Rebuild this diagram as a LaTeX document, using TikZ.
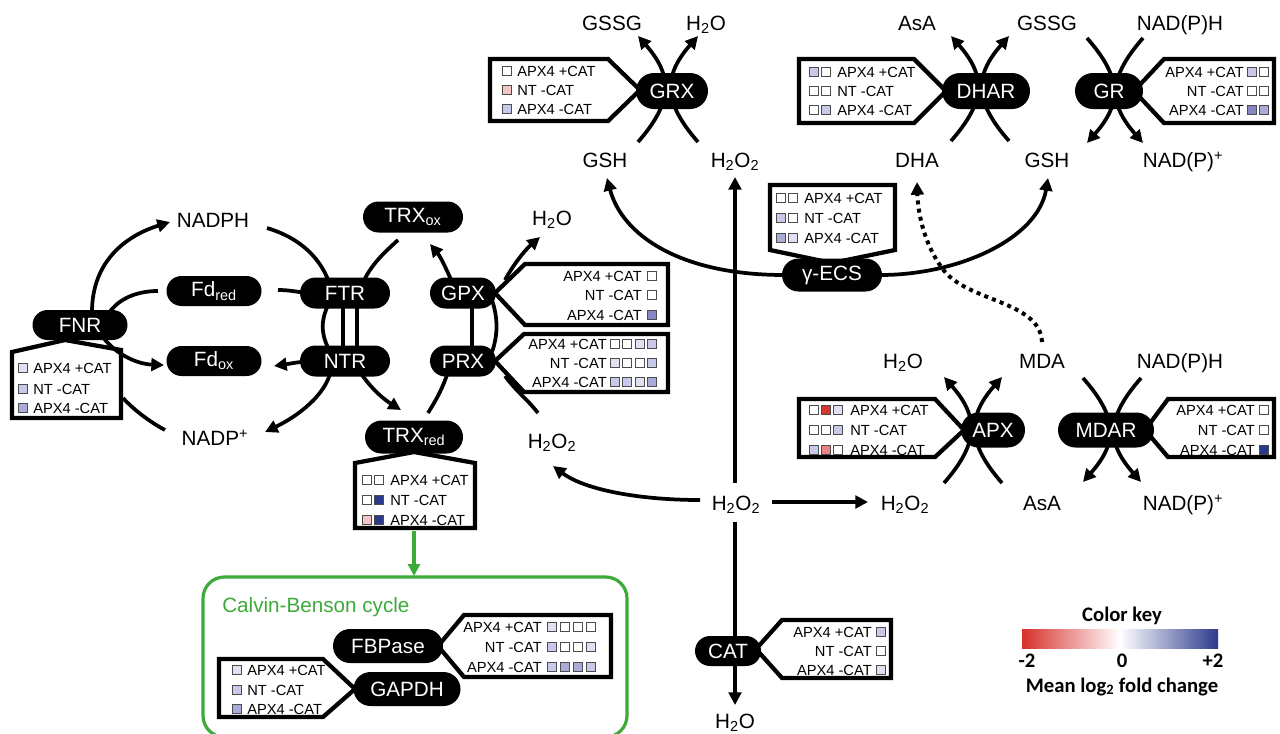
\documentclass[tikz,border=0pt]{standalone}
\usepackage{fontspec}
\setmainfont{Liberation Sans}
\newfontfamily\keyfont{Carlito}
\usetikzlibrary{arrows.meta,shapes.misc}
\definecolor{lvA}{HTML}{E0E0F2}
\definecolor{lvB}{HTML}{C8C8E8}
\definecolor{lvC}{HTML}{ABABDA}
\definecolor{lvD}{HTML}{8686C4}
\definecolor{dkb}{HTML}{2B3A8E}
\definecolor{pk}{HTML}{F3C6C6}
\definecolor{rd}{HTML}{D8382C}
\definecolor{pr}{HTML}{E88484}
\definecolor{grn}{HTML}{3DAA3A}
\definecolor{keyred}{HTML}{D6302A}
\definecolor{keyblue}{HTML}{2E3A8C}
\tikzset{
  lbl/.style={font=\fontsize{15.5}{15.5}\selectfont, inner sep=0pt, anchor=base},
  pill/.style 2 args={rounded rectangle, fill=black, text=white, minimum width=#1*0.75pt, minimum height=#2*0.75pt, inner sep=0pt, font=\fontsize{15.5}{15.5}\selectfont},
  ibox/.style={draw=black, fill=white, line width=3.2pt, line join=miter},
  rowL/.style={font=\fontsize{11}{11}\selectfont, inner sep=0pt, anchor=west},
  rowR/.style={font=\fontsize{11}{11}\selectfont, inner sep=0pt, anchor=east},
  conn/.style={line width=2.8pt},
  arr/.style={conn, -{Triangle[length=9.5pt,width=9.5pt]}},
  dotarr/.style={line width=3pt, dash pattern=on 3pt off 3.2pt, -{Triangle[length=9.5pt,width=9.5pt]}},
  sqs/.style={draw=black!70, line width=0.6pt},
  keylbl/.style={font=\keyfont\bfseries\fontsize{15.5}{15.5}\selectfont, inner sep=0pt, anchor=base},
}
\newcommand\sqr[3]{\filldraw[sqs,fill=#3] ({#1-4.5},{#2-4.5}) rectangle ({#1+4.5},{#2+4.5});}
\newcommand\arcsUp[4]{%
  \draw[arr] ({#1-#2},#4) .. controls +(35,-40) and +(35,40) .. ({#1-#2},#3);
  \draw[arr] ({#1+#2},#4) .. controls +(-35,-40) and +(-35,40) .. ({#1+#2},#3);}
\newcommand\arcsDown[4]{%
  \draw[arr] ({#1-#2},#3) .. controls +(35,40) and +(35,-40) .. ({#1-#2},#4);
  \draw[arr] ({#1+#2},#3) .. controls +(-35,40) and +(-35,-40) .. ({#1+#2},#4);}
\begin{document}
\begin{tikzpicture}[x=0.75pt,y=-0.75pt]
\useasboundingbox (0,0) rectangle (1280,733);
\fill[white] (0,0) rectangle (1280,733);

% ---------- Calvin-Benson box ----------
\draw[grn, line width=2.4pt, rounded corners=16pt] (203,577) rectangle (627,737);
\node[lbl, text=grn, anchor=base west] (cbc) at (222,612) {Calvin-Benson cycle};

% ---------- info boxes ----------
% GRX
\draw[ibox] (490,59) -- (608,59) -- (640,90) -- (608,121) -- (490,121) -- cycle;
\sqr{507}{71}{white}\sqr{507}{90}{pk}\sqr{507}{109}{lvB}
\node[rowL] (grx1) at (517,71) {APX4 +CAT};
\node[rowL] (grx2) at (517,90) {NT -CAT};
\node[rowL] (grx3) at (517,109) {APX4 -CAT};
% DHAR
\draw[ibox] (799,59) -- (914,59) -- (946,91) -- (914,123) -- (799,123) -- cycle;
\sqr{814}{72}{lvB}\sqr{826}{72}{white}
\sqr{814}{91}{white}\sqr{826}{91}{white}
\sqr{814}{110}{white}\sqr{826}{110}{lvB}
\node[rowL] (dh1) at (837,72) {APX4 +CAT};
\node[rowL] (dh2) at (837,91) {NT -CAT};
\node[rowL] (dh3) at (837,110) {APX4 -CAT};
% GR
\draw[ibox] (1274,59) -- (1164,59) -- (1134,91) -- (1164,123) -- (1274,123) -- cycle;
\sqr{1252}{72}{lvB}\sqr{1264}{72}{white}
\sqr{1252}{91}{white}\sqr{1264}{91}{white}
\sqr{1252}{110}{lvD}\sqr{1264}{110}{lvC}
\node[rowR] (gr1) at (1244,72) {APX4 +CAT};
\node[rowR] (gr2) at (1244,91) {NT -CAT};
\node[rowR] (gr3) at (1244,110) {APX4 -CAT};
% gamma-ECS
\draw[ibox] (770,185) -- (895,185) -- (895,250) -- (832,263) -- (770,250) -- cycle;
\sqr{781}{198}{white}\sqr{793}{198}{white}
\sqr{781}{218}{lvB}\sqr{793}{218}{white}
\sqr{781}{238}{lvC}\sqr{793}{238}{lvA}
\node[rowL] (ge1) at (804,198) {APX4 +CAT};
\node[rowL] (ge2) at (804,218) {NT -CAT};
\node[rowL] (ge3) at (804,238) {APX4 -CAT};
% FNR
\draw[ibox] (12,352) -- (65,340) -- (121,350) -- (121,418) -- (12,418) -- cycle;
\sqr{23}{368}{lvA}\sqr{23}{389}{lvB}\sqr{23}{408}{lvC}
\node[rowL] (fn1) at (33,368) {APX4 +CAT};
\node[rowL] (fn2) at (33,389) {NT -CAT};
\node[rowL] (fn3) at (33,408) {APX4 -CAT};
% GPX
\draw[ibox] (525,264) -- (668,264) -- (668,325) -- (525,325) -- (495,293) -- cycle;
\sqr{652}{276}{white}\sqr{652}{295}{white}\sqr{652}{315}{lvD}
\node[rowR] (gp1) at (642,276) {APX4 +CAT};
\node[rowR] (gp2) at (642,295) {NT -CAT};
\node[rowR] (gp3) at (642,315) {APX4 -CAT};
% PRX
\draw[ibox] (524,334) -- (668,334) -- (668,392) -- (524,392) -- (495,361) -- cycle;
\sqr{614.5}{344}{white}\sqr{627}{344}{white}\sqr{639.5}{344}{lvA}\sqr{652}{344}{lvB}
\sqr{614.5}{363}{lvA}\sqr{627}{363}{white}\sqr{639.5}{363}{white}\sqr{652}{363}{lvB}
\sqr{614.5}{382}{lvB}\sqr{627}{382}{lvB}\sqr{639.5}{382}{lvA}\sqr{652}{382}{lvC}
\node[rowR] (pr1) at (607,344) {APX4 +CAT};
\node[rowR] (pr2) at (607,363) {NT -CAT};
\node[rowR] (pr3) at (607,382) {APX4 -CAT};
% TRXred
\draw[ibox] (355,463) -- (414,452) -- (475,463) -- (475,528) -- (355,528) -- cycle;
\sqr{367}{480}{white}\sqr{379}{480}{white}
\sqr{367}{500}{white}\sqr{379}{500}{dkb}
\sqr{367}{520}{pk}\sqr{379}{520}{dkb}
\node[rowL] (tr1) at (390,480) {APX4 +CAT};
\node[rowL] (tr2) at (390,500) {NT -CAT};
\node[rowL] (tr3) at (390,520) {APX4 -CAT};
% FBPase
\draw[ibox] (464,615) -- (611,615) -- (611,677) -- (464,677) -- (438,646) -- cycle;
\sqr{552}{627}{lvA}\sqr{565}{627}{white}\sqr{578}{627}{white}\sqr{591}{627}{white}
\sqr{552}{647}{lvB}\sqr{565}{647}{white}\sqr{578}{647}{white}\sqr{591}{647}{lvA}
\sqr{552}{667}{lvB}\sqr{565}{667}{lvC}\sqr{578}{667}{lvC}\sqr{591}{667}{lvB}
\node[rowR] (fb1) at (542,627) {APX4 +CAT};
\node[rowR] (fb2) at (542,647) {NT -CAT};
\node[rowR] (fb3) at (542,667) {APX4 -CAT};
% GAPDH
\draw[ibox] (219,659) -- (323,659) -- (355,689) -- (323,717) -- (219,717) -- cycle;
\sqr{237}{670}{lvA}\sqr{237}{690}{lvB}\sqr{237}{709}{lvC}
\node[rowL] (ga1) at (247,670) {APX4 +CAT};
\node[rowL] (ga2) at (247,690) {NT -CAT};
\node[rowL] (ga3) at (247,709) {APX4 -CAT};
% APX
\draw[ibox] (799,399) -- (935,399) -- (964,430) -- (935,457) -- (799,457) -- cycle;
\sqr{814}{410}{white}\sqr{826}{410}{rd}\sqr{838}{410}{lvA}
\sqr{814}{430}{white}\sqr{826}{430}{white}\sqr{838}{430}{lvB}
\sqr{814}{450}{lvB}\sqr{826}{450}{pr}\sqr{838}{450}{white}
\node[rowL] (ap1) at (850,410) {APX4 +CAT};
\node[rowL] (ap2) at (850,430) {NT -CAT};
\node[rowL] (ap3) at (850,450) {APX4 -CAT};
% MDAR
\draw[ibox] (1274,399) -- (1168,399) -- (1145,430) -- (1168,457) -- (1274,457) -- cycle;
\sqr{1264}{410}{white}\sqr{1264}{430}{white}\sqr{1264}{450}{dkb}
\node[rowR] (md1) at (1255,410) {APX4 +CAT};
\node[rowR] (md2) at (1255,430) {NT -CAT};
\node[rowR] (md3) at (1255,450) {APX4 -CAT};
% CAT
\draw[ibox] (782,620) -- (891,620) -- (891,678) -- (782,678) -- (756,649) -- cycle;
\sqr{881}{632}{lvB}\sqr{881}{651}{white}\sqr{881}{670}{lvA}
\node[rowR] (ct1) at (872,632) {APX4 +CAT};
\node[rowR] (ct2) at (872,651) {NT -CAT};
\node[rowR] (ct3) at (872,670) {APX4 -CAT};

% ---------- connectors ----------
\arcsUp{668}{30}{36}{142}
\arcsUp{980}{29}{36}{141}
\arcsDown{1115}{28}{38}{143}
\arcsUp{973}{29}{377}{483}
\arcsDown{1112}{29}{378}{482}

% left cycle
\draw[arr] (92,312) .. controls (92,262) and (125,236) .. (170,222);
\draw[conn] (158,291) .. controls (135,291) and (115,300) .. (106,318);
\draw[arr] (100,333) .. controls (112,352) and (135,364) .. (164,365);
\draw[conn] (165,430) .. controls (150,422) and (134,410) .. (123,398);
% NADPH -> NADP+
\draw[conn] (267,228) .. controls (300,238) and (322,258) .. (331,288);
\draw[conn] (331,300) .. controls (320,318) and (320,335) .. (331,353);
\draw[arr] (331,370) .. controls (326,395) and (298,416) .. (265,432);
% Fd red -> Fd ox
\draw[conn] (278,290) .. controls (290,290) and (298,292) .. (312,294);
\draw[conn] (343,300) -- (343,352);
\draw[arr] (310,361) .. controls (298,362) and (288,364) .. (274,366);
% TRXox -> TRXred
\draw[conn] (398,240) .. controls (385,252) and (370,265) .. (362,285);
\draw[conn] (357,300) -- (357,352);
\draw[arr] (360,372) .. controls (372,390) and (385,400) .. (401,410);
% TRXred -> TRXox via PRX/GPX
\draw[conn] (428,413) .. controls (436,400) and (442,390) .. (448,372);
\draw[conn] (472,300) -- (472,352);
\draw[arr] (452,282) .. controls (446,268) and (440,256) .. (430,244);
% H2O2 -> H2O via PRX/GPX
\draw[conn] (538,413) .. controls (528,400) and (515,390) .. (505,376);
\draw[conn] (492,300) .. controls (498,318) and (498,335) .. (492,352);
\draw[arr] (505,280) .. controls (513,265) and (525,250) .. (540,237);

% central H2O2
\draw[arr] (735,483) -- (735,177);
\draw[arr] (735,522) -- (735,705);
\draw[arr] (772,502) -- (868,502);
\draw[arr] (700,500) .. controls (640,500) and (585,490) .. (553,466);

% gamma-ECS
\draw[arr] (784,275) .. controls (680,275) and (622,235) .. (607,178);
\draw[arr] (880,275) .. controls (960,275) and (1038,238) .. (1048,178);
% dotted MDA -> DHA
\draw[dotarr] (1042,342) .. controls (1040,300) and (965,302) .. (942,268) .. controls (925,245) and (918,215) .. (917,182);

% green arrow to Calvin cycle
\draw[grn, line width=2.4pt, -{Triangle[length=9pt,width=9pt]}] (414,531) -- (414,576);

% ---------- pills ----------
\node[pill={72}{36}] (GRX) at (672,91) {GRX};
\node[pill={88}{36}] (DHAR) at (986,91) {DHAR};
\node[pill={68}{36}] (GR) at (1109,91) {GR};
\node[pill={100}{33}] (gECS) at (832,275) {γ-ECS};
\node[pill={95}{30}] (FNR) at (80,325) {FNR};
\node[pill={95}{30}] (Fdred) at (214,291) {Fd\textsubscript{red}};
\node[pill={95}{30}] (Fdox) at (214,361) {Fd\textsubscript{ox}};
\node[pill={90}{31}] (FTR) at (345,293) {FTR};
\node[pill={90}{31}] (NTR) at (345,361) {NTR};
\node[pill={100}{31}] (TRXox) at (413,217) {TRX\textsubscript{ox}};
\node[pill={66}{31}] (GPX) at (463,293) {GPX};
\node[pill={66}{31}] (PRX) at (463,361) {PRX};
\node[pill={98}{33}] (TRXred) at (414,437) {TRX\textsubscript{red}};
\node[pill={64}{35}] (APX) at (993,430) {APX};
\node[pill={96}{35}] (MDAR) at (1106,430) {MDAR};
\node[pill={66}{30}] (CAT) at (728,651) {CAT};
\node[pill={110}{34}] (FBPase) at (388,646) {FBPase};
\node[pill={107}{34}] (GAPDH) at (407,689) {GAPDH};

% ---------- labels ----------
\node[lbl] (gssgA) at (612,30) {GSSG};
\node[lbl] (h2oA) at (706,30) {H\textsubscript{2}O};
\node[lbl] (gshA) at (605,167) {GSH};
\node[lbl] (h2o2A) at (735,167) {H\textsubscript{2}O\textsubscript{2}};
\node[lbl] (asaA) at (917,30) {AsA};
\node[lbl] (gssgB) at (1047,30) {GSSG};
\node[lbl] (nadphA) at (1180,30) {NAD(P)H};
\node[lbl] (dha) at (917,167) {DHA};
\node[lbl] (gshB) at (1047,167) {GSH};
\node[lbl] (nadppA) at (1183,167) {NAD(P)\textsuperscript{+}};
\node[lbl] (nadph) at (213,227) {NADPH};
\node[lbl] (nadpp) at (215,445) {NADP\textsuperscript{+}};
\node[lbl] (h2oB) at (552,225) {H\textsubscript{2}O};
\node[lbl] (h2o2B) at (552,448) {H\textsubscript{2}O\textsubscript{2}};
\node[lbl] (h2o2C) at (736,510) {H\textsubscript{2}O\textsubscript{2}};
\node[lbl] (h2o2D) at (905,510) {H\textsubscript{2}O\textsubscript{2}};
\node[lbl] (h2oC) at (903,368) {H\textsubscript{2}O};
\node[lbl] (mda) at (1042,368) {MDA};
\node[lbl] (nadphB) at (1180,368) {NAD(P)H};
\node[lbl] (asaB) at (1042,510) {AsA};
\node[lbl] (nadppB) at (1183,510) {NAD(P)\textsuperscript{+}};
\node[lbl] (h2oD) at (735,728) {H\textsubscript{2}O};

% ---------- colour key ----------
\node[keylbl] (ckt) at (1122,621) {Color key};
\shade[left color=keyred, right color=keyblue, middle color=white] (1022,629) rectangle (1218,648);
\node[keylbl] (km2) at (1027,667) {-2};
\node[keylbl] (k0) at (1122,667) {0};
\node[keylbl] (kp2) at (1213,667) {+2};
\node[keylbl] (kmean) at (1122,692) {Mean log\textsubscript{2} fold change};
\end{tikzpicture}
\end{document}
